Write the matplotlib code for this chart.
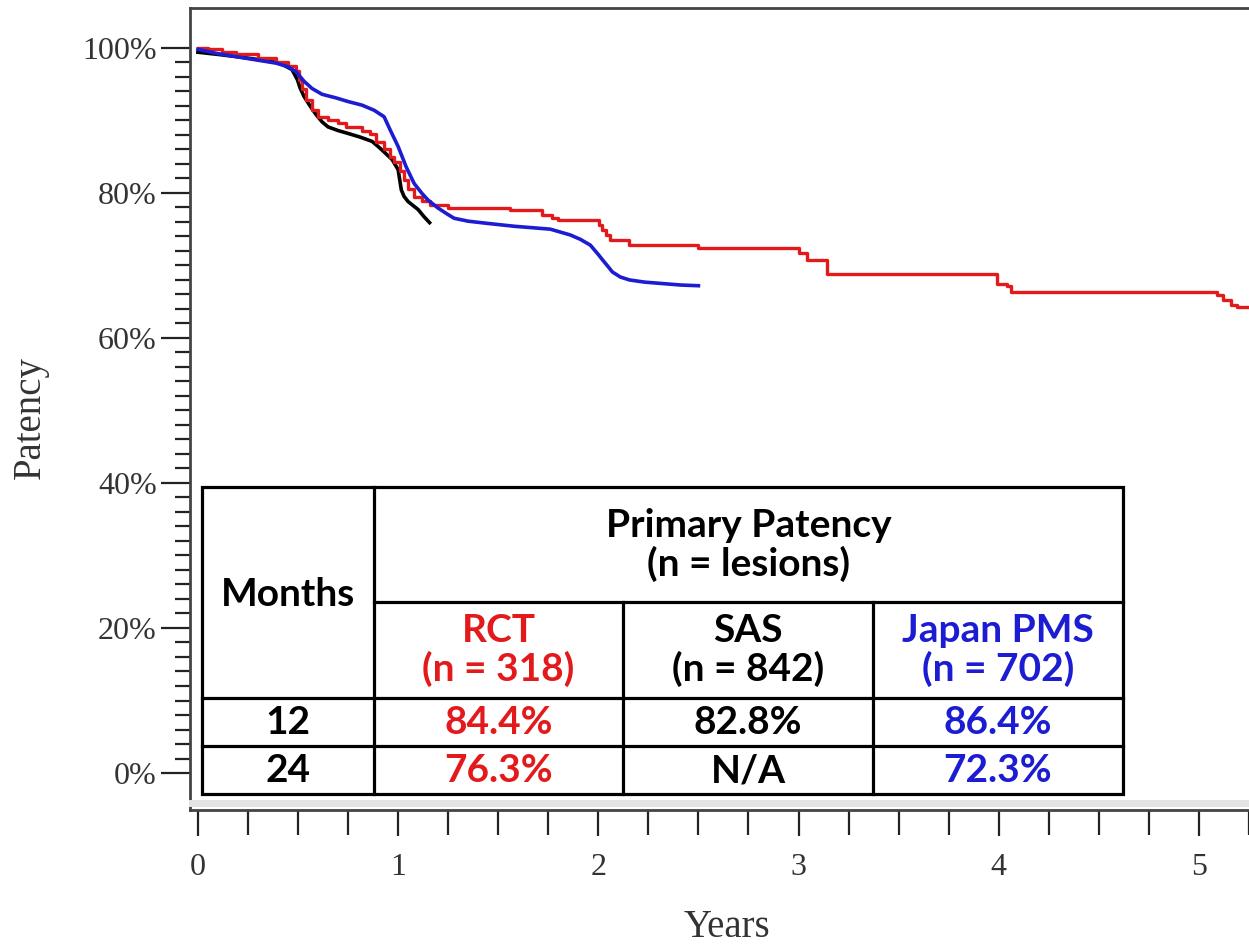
import numpy as np
import matplotlib.pyplot as plt
from matplotlib.patches import Rectangle

# Kaplan-Meier curves (years, patency %)
rct_t = [0.00, 0.05, 0.12, 0.19, 0.30, 0.39, 0.45, 0.49, 0.505, 0.52, 0.54, 0.57,
         0.60, 0.65, 0.70, 0.74, 0.82, 0.86, 0.89, 0.93, 0.96, 0.98, 1.01, 1.03,
         1.05, 1.08, 1.12, 1.16, 1.25, 1.56, 1.72, 1.77, 1.80, 2.005, 2.02, 2.04,
         2.06, 2.155, 2.50, 3.00, 3.04, 3.14, 3.99, 4.04, 4.06, 5.09, 5.12, 5.16,
         5.19, 5.30]
rct_p = [100.0, 99.8, 99.5, 99.2, 98.6, 98.1, 97.5, 96.8, 95.6, 94.3, 92.8, 91.5,
         90.5, 90.1, 89.6, 89.1, 88.5, 88.1, 87.0, 86.0, 85.0, 84.3, 83.0, 81.8,
         80.6, 79.5, 78.9, 78.4, 77.9, 77.6, 76.9, 76.6, 76.3, 75.6, 74.9, 74.2,
         73.5, 72.8, 72.4, 71.7, 70.8, 68.8, 67.5, 67.2, 66.4, 65.9, 65.2, 64.6,
         64.2, 64.2]

pms_t = [0.00, 0.10, 0.19, 0.30, 0.39, 0.45, 0.49, 0.53, 0.57, 0.62, 0.69, 0.75,
         0.82, 0.88, 0.93, 0.96, 1.00, 1.04, 1.08, 1.12, 1.15, 1.20, 1.25, 1.28,
         1.35, 1.445, 1.58, 1.76, 1.86, 1.91, 1.96, 2.00, 2.02, 2.05, 2.07, 2.11,
         2.155, 2.23, 2.32, 2.41, 2.50]
pms_p = [99.8, 99.2, 98.8, 98.3, 97.9, 97.4, 96.7, 95.4, 94.4, 93.6, 93.1, 92.6,
         92.1, 91.4, 90.5, 88.7, 86.4, 83.6, 81.3, 79.9, 79.0, 77.9, 77.0, 76.5,
         76.1, 75.8, 75.4, 75.0, 74.2, 73.6, 72.8, 71.5, 70.8, 69.8, 69.1, 68.4,
         68.0, 67.7, 67.5, 67.3, 67.2]

sas_t = [0.00, 0.10, 0.19, 0.30, 0.41, 0.47, 0.497, 0.51, 0.53, 0.56, 0.59, 0.62,
         0.65, 0.70, 0.75, 0.81, 0.87, 0.90, 0.92, 0.97, 1.00, 1.016, 1.03, 1.05,
         1.10, 1.13, 1.157]
sas_p = [99.4, 99.1, 98.8, 98.4, 97.9, 97.0, 95.6, 94.5, 93.3, 92.0, 90.8, 89.8,
         89.1, 88.6, 88.2, 87.7, 87.1, 86.4, 85.9, 84.6, 83.2, 80.4, 79.5, 78.8,
         77.7, 76.7, 75.9]

# table contents
row_months = ["12", "24"]
group_names = ["RCT\n(n = 318)", "SAS\n(n = 842)", "Japan PMS\n(n = 702)"]
patency_12 = ["84.4%", "82.8%", "86.4%"]
patency_24 = ["76.3%", "N/A", "72.3%"]

RED = "#e31a1c"
BLUE = "#1c1cd2"
W, H = 1249, 948

fig = plt.figure(figsize=(W / 100, H / 100), dpi=100)
ax = fig.add_axes([190 / W, 1 - 810 / H, 1 - 190 / W, (810 - 8) / H])

ax.plot(sas_t, sas_p, color="black", lw=2.6, zorder=3)
ax.step(rct_t, rct_p, where="post", color=RED, lw=2.4, zorder=4)
ax.plot(pms_t, pms_p, color=BLUE, lw=2.6, zorder=5)

ax.set_xlim(-0.0396, 5.203)
ax.set_ylim(-5.1, 105.5)

serif = "Liberation Serif"
ax.set_yticks(np.arange(0, 101, 20))
ax.set_yticklabels([f"{v}%" for v in range(0, 101, 20)], family=serif, fontsize=23, color="#333333")
ax.set_yticks(np.arange(0, 101, 2), minor=True)
ax.set_xticks(np.arange(0, 6, 1))
ax.set_xticklabels([str(v) for v in range(6)], family=serif, fontsize=23, color="#333333")
ax.set_xticks(np.arange(0, 5.3, 0.25), minor=True)

ax.tick_params(axis="y", which="major", length=21, width=1.6, pad=3, color="#222222")
ax.tick_params(axis="y", which="minor", length=10.5, width=1.6, color="#222222")
ax.tick_params(axis="x", which="major", length=19, width=1.6, pad=12, color="#222222")
ax.tick_params(axis="x", which="minor", length=18, width=1.6, color="#222222")

for s in ["left", "top", "bottom"]:
    ax.spines[s].set_color("#444444")
    ax.spines[s].set_linewidth(2)
ax.spines["right"].set_visible(False)

fig.text(30 / W, 1 - 418 / H, "Patency", rotation=90, family=serif, fontsize=28,
         color="#333333", ha="center", va="center")
fig.text(727 / W, 1 - 937 / H, "Years", family=serif, fontsize=28,
         color="#333333", ha="center", va="baseline")

# table overlay in pixel coordinates
tab = fig.add_axes([0, 0, 1, 1])
tab.set_xlim(0, W)
tab.set_ylim(H, 0)
tab.axis("off")

x0, x1, x2, x3, x4 = 202, 374, 623, 873, 1123
y0, y1, y2, y3, y4 = 487, 602, 698, 746, 794
lw = 2.3
tab.plot([192, W], [803, 803], color="#e4e4e4", lw=5)
tab.add_patch(Rectangle((x0, y0), x4 - x0, y4 - y0, facecolor="white",
                        edgecolor="black", lw=lw, zorder=2))
tab.plot([x1, x1], [y0, y4], color="black", lw=lw, zorder=3)
tab.plot([x2, x2], [y1, y4], color="black", lw=lw, zorder=3)
tab.plot([x3, x3], [y1, y4], color="black", lw=lw, zorder=3)
tab.plot([x1, x4], [y1, y1], color="black", lw=lw, zorder=3)
tab.plot([x0, x4], [y2, y2], color="black", lw=lw, zorder=3)
tab.plot([x0, x4], [y3, y3], color="black", lw=lw, zorder=3)

tf = dict(family=["Lato", "DejaVu Sans"], fontweight="bold", fontsize=28,
          ha="center", va="center", zorder=4, linespacing=1.1)
tab.text((x0 + x1) / 2, 594, "Months", color="black", **tf)
tab.text((x1 + x4) / 2, 545, "Primary Patency\n(n = lesions)", color="black", **tf)

col_x = [(x1 + x2) / 2, (x2 + x3) / 2, (x3 + x4) / 2]
col_c = [RED, "black", BLUE]
for cx, cc, name, v12, v24 in zip(col_x, col_c, group_names, patency_12, patency_24):
    tab.text(cx, 650, name, color=cc, **tf)
    tab.text(cx, (y2 + y3) / 2 + 1, v12, color=cc, **tf)
    tab.text(cx, (y3 + y4) / 2 + 1, v24, color=cc, **tf)
for yy, m in zip([(y2 + y3) / 2 + 1, (y3 + y4) / 2 + 1], row_months):
    tab.text((x0 + x1) / 2, yy, m, color="black", **tf)

fig.savefig("out.png", dpi=100)
